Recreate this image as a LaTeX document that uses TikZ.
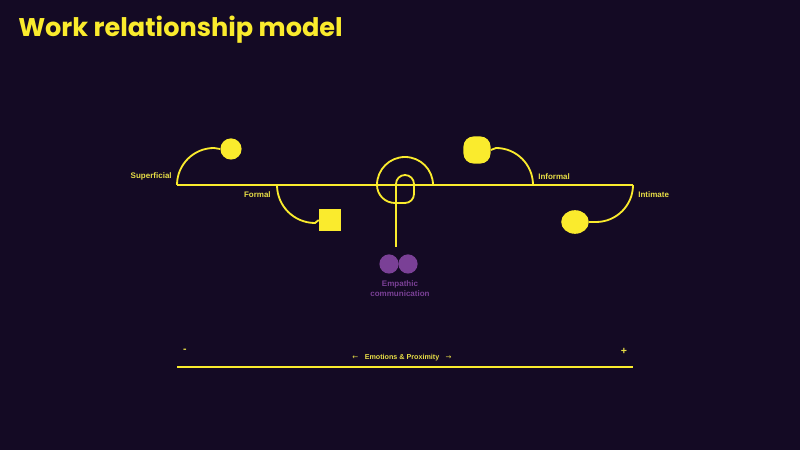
\documentclass[tikz,border=0pt]{standalone}
\usepackage{fontspec}
\setmainfont{Liberation Sans}
\newfontfamily\titlefont{Poppins}
\newfontfamily\arrowfont{DejaVu Sans}
\usepackage{tikz}
\usetikzlibrary{shapes,positioning}
\definecolor{night}{RGB}{20,10,36}
\definecolor{lemon}{RGB}{250,235,45}
\definecolor{straw}{RGB}{232,222,70}
\definecolor{grape}{RGB}{122,64,150}
\tikzstyle{track}=[draw=lemon, line width=1.3pt]
\tikzstyle{tag}=[text=straw, font=\fontsize{5.7}{7}\selectfont\bfseries, inner sep=0pt]
\tikzstyle{mark1}=[fill=lemon, inner sep=0pt]
\tikzstyle{bubble}=[circle, fill=grape, minimum size=4.8mm, inner sep=0pt]
\begin{document}
\begin{tikzpicture}[x=0.25mm, y=0.25mm]
\useasboundingbox[fill=night] (0,0) rectangle (800,450);
% title
\node [anchor=base west, text=lemon, font=\titlefont\fontsize{18.2}{22}\selectfont\bfseries, inner sep=0pt] (title) at (18,413) {Work relationship model};
% main scale
\coordinate (supL) at (177,265);
\coordinate (scaleR) at (633,265);
\coordinate (forL) at (277,265);
\coordinate (infL) at (533,265);
\draw [track] (supL) -- (scaleR);
% shapes
\node [mark1, circle, minimum size=5.3mm] (dot) at (231,301) {};
\node [mark1, rectangle, minimum size=5.5mm] (square) at (330,230) {};
\node [mark1, rectangle, rounded corners=2.6mm, minimum size=6.8mm] (squircle) at (477,300) {};
\node [mark1, ellipse, minimum width=6.9mm, minimum height=5.9mm] (blob) at (575,228) {};
% arcs
\draw [track] (supL) arc[start angle=180, end angle=90, radius=37] -- (dot.west);
\draw [track] (forL) arc[start angle=180, end angle=270, radius=38] -- (square.west);
\draw [track] (infL) arc[start angle=0, end angle=90, radius=37] -- (squircle.east);
\draw [track] (scaleR) arc[start angle=0, end angle=-90, radius=37] -- (blob.east);
% centre loop
\coordinate (stem) at (396,203);
\draw [track] (stem) -- (396,266) arc[start angle=180, end angle=0, radius=9] -- (414,256)
  arc[start angle=0, end angle=-90, radius=9] -- (395,247)
  arc[start angle=-90, end angle=-180, radius=18]
  arc[start angle=180, end angle=0, radius=28];
% empathic
\node [bubble] (bubL) at (389,186) {};
\node [bubble] (bubR) at (408,186) {};
\node [text=grape, font=\fontsize{5.7}{7}\selectfont\bfseries, align=center, inner sep=0pt] (empathic) at (400,161) {Empathic\\communication};
% labels
\node [tag, anchor=east] (superficial) at (172,274) {Superficial};
\node [tag, anchor=east] (formal) at (271,255) {Formal};
\node [tag, anchor=west] (informal) at (538,273) {Informal};
\node [tag, anchor=west] (intimate) at (638,255) {Intimate};
% bottom scale
\coordinate (botL) at (177,83);
\coordinate (botR) at (633,83);
\draw [track] (botL) -- (botR);
\node [tag, font=\fontsize{7.5}{8}\selectfont\bfseries] (minus) at (185,99) {-};
\node [tag, font=\fontsize{7.5}{8}\selectfont\bfseries] (plus) at (624,99) {+};
\node [tag, font=\fontsize{5.1}{7}\selectfont\bfseries] (emotions) at (402,92) {{\arrowfont\mdseries\fontsize{5}{7}\selectfont ←}\hspace{0.9em}Emotions \& Proximity\hspace{0.9em}{\arrowfont\mdseries\fontsize{5}{7}\selectfont →}};
\end{tikzpicture}
\end{document}
